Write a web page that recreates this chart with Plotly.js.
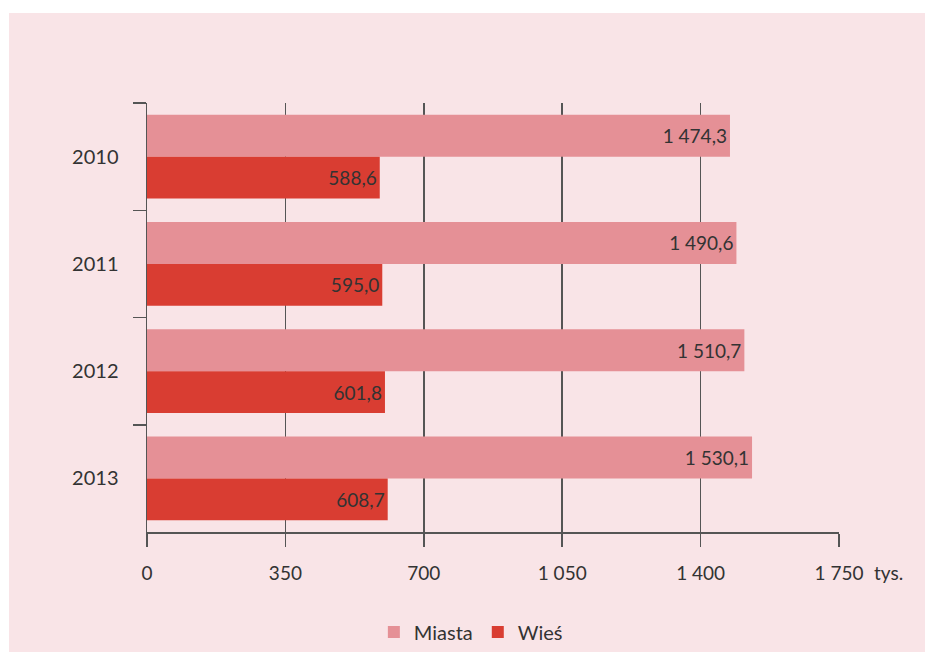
<!DOCTYPE html>
<html>
<head>
<meta charset="utf-8">
<script src="https://cdn.plot.ly/plotly-3.0.1.min.js"></script>
<style>
  html, body { margin: 0; padding: 0; background: #ffffff; }
  #chart { width: 925px; height: 652px; }
</style>
</head>
<body>
<div id="chart"></div>
<script>
// Ludność w tys. – miasta i wieś, lata 2010–2013
const years = ['2010', '2011', '2012', '2013'];
const miasta = [1474.3, 1490.6, 1510.7, 1530.1];
const wies = [588.6, 595.0, 601.8, 608.7];
const xTicks = [0, 350, 700, 1050, 1400, 1750];

const FONT = 'Lato, "Open Sans", sans-serif';
const TEXT = '#333333';
const LINE = '#555555';

const common = {
  type: 'bar',
  orientation: 'h',
  y: years,
  texttemplate: '%{x:,.1f}',
  textposition: 'inside',
  insidetextanchor: 'end',
  textangle: 0,
  insidetextfont: { family: FONT, size: 19, color: TEXT },
  hoverinfo: 'skip'
};

const traces = [
  Object.assign({}, common, {
    name: 'Miasta', x: miasta,
    marker: { color: '#e59096' }
  }),
  Object.assign({}, common, {
    name: 'Wieś', x: wies,
    marker: { color: '#d93d32' }
  })
];

const layout = {
  width: 925,
  height: 652,
  margin: { l: 147, r: 86, t: 103, b: 120, autoexpand: false },
  paper_bgcolor: '#ffffff',
  plot_bgcolor: 'rgba(0,0,0,0)',
  separators: ', ',
  font: { family: FONT, size: 19, color: TEXT },
  barmode: 'group',
  bargap: 0.22,
  bargroupgap: 0,
  showlegend: true,
  legend: {
    orientation: 'h',
    x: 0.468, xanchor: 'center',
    y: -0.233, yanchor: 'middle',
    traceorder: 'normal',
    font: { family: FONT, size: 20, color: TEXT },
    bgcolor: 'rgba(0,0,0,0)'
  },
  xaxis: {
    range: [0, 1750],
    tickvals: xTicks,
    tickformat: ',.0f',
    showgrid: true,
    gridcolor: LINE,
    gridwidth: 1.5,
    showline: true,
    linecolor: LINE,
    linewidth: 1.5,
    ticks: 'outside',
    ticklen: 13,
    tickwidth: 1.5,
    tickcolor: LINE,
    ticklabelstandoff: 11,
    zeroline: false,
    automargin: false,
    tickfont: { family: FONT, size: 19, color: TEXT },
    fixedrange: true
  },
  yaxis: {
    type: 'category',
    autorange: 'reversed',
    tickson: 'boundaries',
    showgrid: false,
    showline: true,
    linecolor: LINE,
    linewidth: 1.5,
    ticks: 'outside',
    ticklen: 13,
    tickwidth: 1.5,
    tickcolor: LINE,
    ticklabelstandoff: 23,
    automargin: false,
    tickfont: { family: FONT, size: 20, color: TEXT },
    fixedrange: true
  },
  shapes: [
    {
      type: 'rect', layer: 'below',
      xref: 'paper', yref: 'paper',
      x0: -0.1994, x1: 1.13, y0: -0.29, y1: 1.2098,
      fillcolor: '#f9e4e7', line: { width: 0 }
    }
  ],
  annotations: [
    {
      xref: 'paper', yref: 'paper',
      x: 1.048, y: -0.095, xanchor: 'left', yanchor: 'middle',
      text: 'tys.', showarrow: false,
      font: { family: FONT, size: 19, color: TEXT }
    }
  ]
};

Plotly.newPlot('chart', traces, layout, { displayModeBar: false, staticPlot: true });
</script>
</body>
</html>
